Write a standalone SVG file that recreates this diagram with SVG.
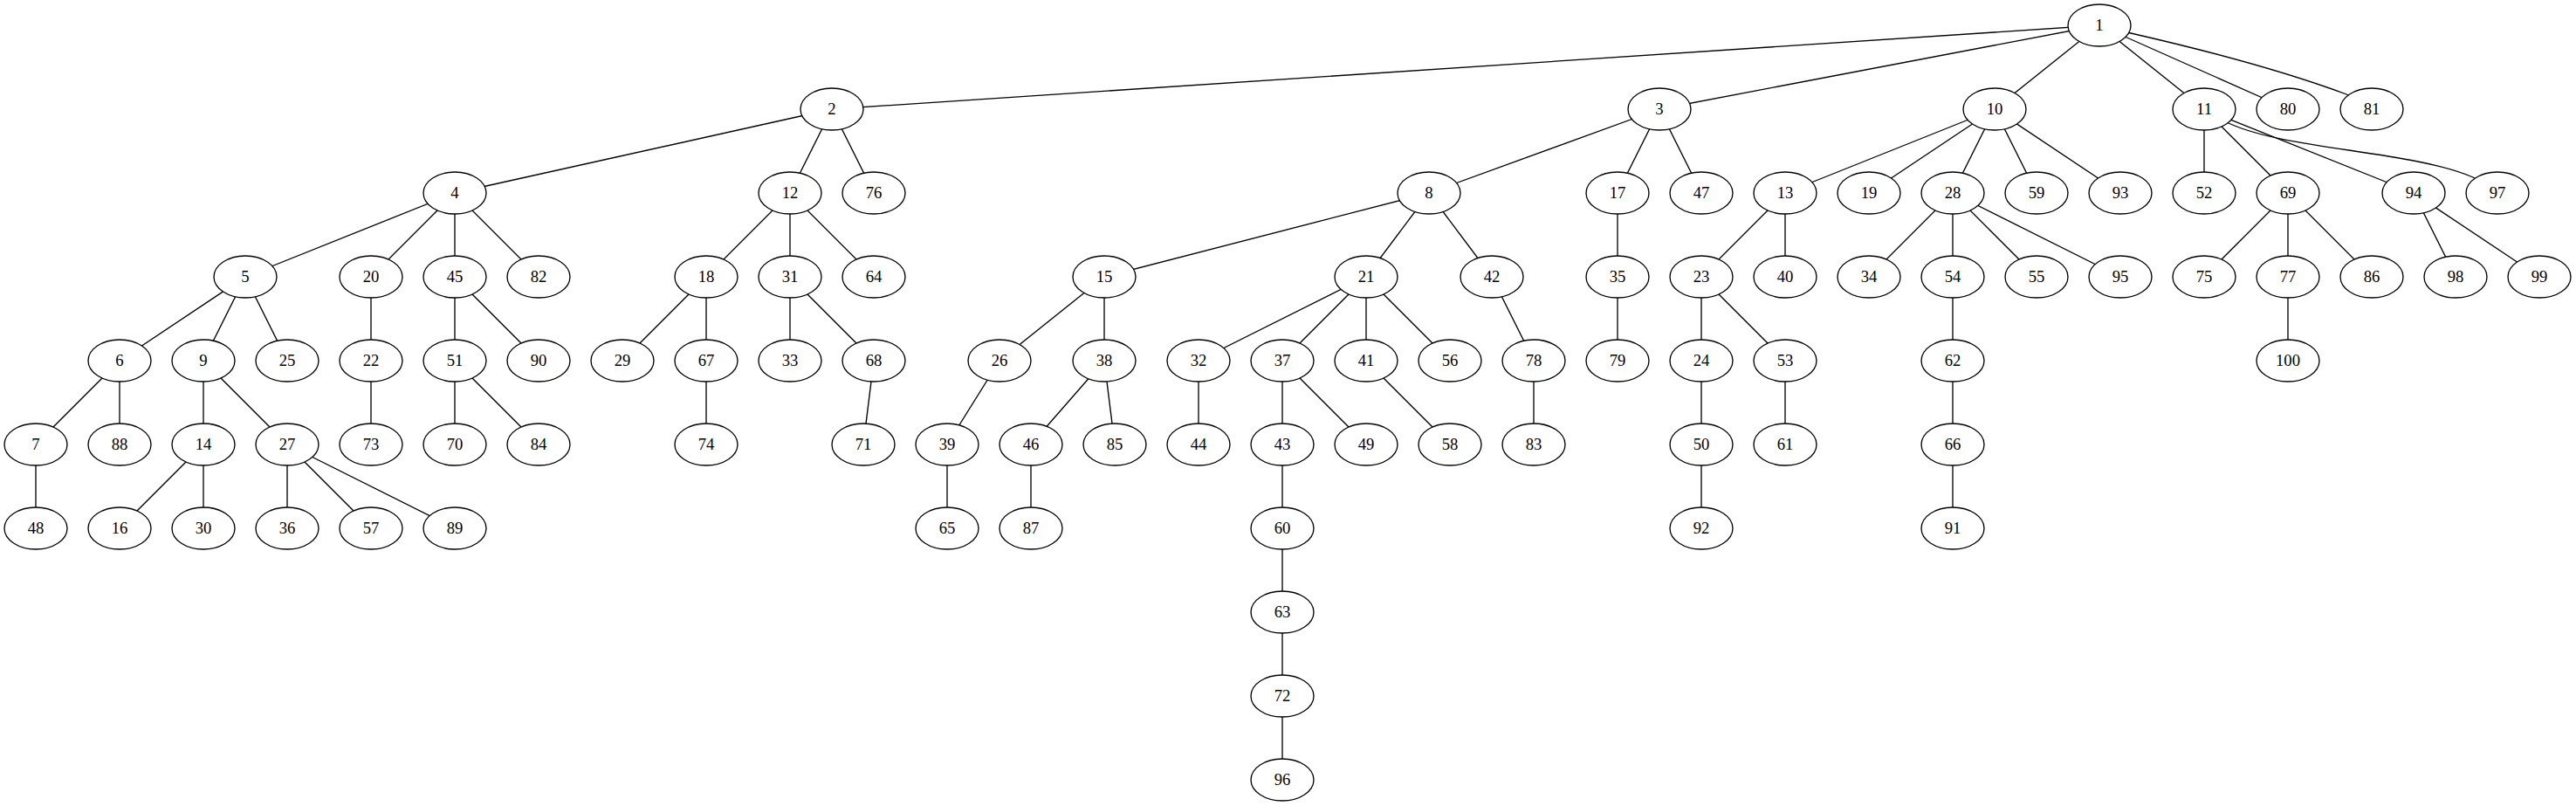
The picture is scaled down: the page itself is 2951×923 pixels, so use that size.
<svg xmlns="http://www.w3.org/2000/svg" width="2951" height="923" viewBox="0 0 2951 923">
<style>
.e{stroke:#000;stroke-width:1.33;fill:none}
.node ellipse{fill:#fff;stroke:#000;stroke-width:1.33}
.node text{font-family:"Liberation Serif","Times New Roman",serif;font-size:18.67px;text-anchor:middle;fill:#000}
</style>
<rect width="2951" height="923" fill="#fff"/>
<g id="edges">
<line class="e" x1="2405" y1="29" x2="953" y2="125"/>
<line class="e" x1="2405" y1="29" x2="1901" y2="125"/>
<line class="e" x1="2405" y1="29" x2="2285" y2="125"/>
<line class="e" x1="2405" y1="29" x2="2525" y2="125"/>
<line class="e" x1="2405" y1="29" x2="2621" y2="125"/>
<path class="e" d="M2405,29 L2441,38 Q2594,73 2688,108 L2717,125"/>
<line class="e" x1="953" y1="125" x2="521" y2="221"/>
<line class="e" x1="953" y1="125" x2="905" y2="221"/>
<line class="e" x1="953" y1="125" x2="1001" y2="221"/>
<line class="e" x1="1901" y1="125" x2="1637" y2="221"/>
<line class="e" x1="1901" y1="125" x2="1853" y2="221"/>
<line class="e" x1="1901" y1="125" x2="1949" y2="221"/>
<line class="e" x1="521" y1="221" x2="281" y2="317"/>
<line class="e" x1="521" y1="221" x2="425" y2="317"/>
<line class="e" x1="521" y1="221" x2="521" y2="317"/>
<line class="e" x1="521" y1="221" x2="617" y2="317"/>
<line class="e" x1="281" y1="317" x2="137" y2="413"/>
<line class="e" x1="281" y1="317" x2="233" y2="413"/>
<line class="e" x1="281" y1="317" x2="329" y2="413"/>
<line class="e" x1="137" y1="413" x2="41" y2="509"/>
<line class="e" x1="137" y1="413" x2="137" y2="509"/>
<line class="e" x1="41" y1="509" x2="41" y2="605"/>
<line class="e" x1="233" y1="413" x2="233" y2="509"/>
<line class="e" x1="233" y1="413" x2="329" y2="509"/>
<line class="e" x1="233" y1="509" x2="137" y2="605"/>
<line class="e" x1="233" y1="509" x2="233" y2="605"/>
<line class="e" x1="329" y1="509" x2="329" y2="605"/>
<line class="e" x1="329" y1="509" x2="425" y2="605"/>
<line class="e" x1="329" y1="509" x2="521" y2="605"/>
<line class="e" x1="425" y1="317" x2="425" y2="413"/>
<line class="e" x1="425" y1="413" x2="425" y2="509"/>
<line class="e" x1="521" y1="317" x2="521" y2="413"/>
<line class="e" x1="521" y1="317" x2="617" y2="413"/>
<line class="e" x1="521" y1="413" x2="521" y2="509"/>
<line class="e" x1="521" y1="413" x2="617" y2="509"/>
<line class="e" x1="905" y1="221" x2="809" y2="317"/>
<line class="e" x1="905" y1="221" x2="905" y2="317"/>
<line class="e" x1="905" y1="221" x2="1001" y2="317"/>
<line class="e" x1="809" y1="317" x2="713" y2="413"/>
<line class="e" x1="809" y1="317" x2="809" y2="413"/>
<line class="e" x1="809" y1="413" x2="809" y2="509"/>
<line class="e" x1="905" y1="317" x2="905" y2="413"/>
<line class="e" x1="905" y1="317" x2="1001" y2="413"/>
<line class="e" x1="1001" y1="413" x2="989" y2="509"/>
<line class="e" x1="1637" y1="221" x2="1265" y2="317"/>
<line class="e" x1="1637" y1="221" x2="1565" y2="317"/>
<line class="e" x1="1637" y1="221" x2="1709" y2="317"/>
<line class="e" x1="1265" y1="317" x2="1145" y2="413"/>
<line class="e" x1="1265" y1="317" x2="1265" y2="413"/>
<line class="e" x1="1145" y1="413" x2="1085" y2="509"/>
<line class="e" x1="1085" y1="509" x2="1085" y2="605"/>
<line class="e" x1="1265" y1="413" x2="1181" y2="509"/>
<line class="e" x1="1265" y1="413" x2="1277" y2="509"/>
<line class="e" x1="1181" y1="509" x2="1181" y2="605"/>
<line class="e" x1="1565" y1="317" x2="1373" y2="413"/>
<line class="e" x1="1565" y1="317" x2="1469" y2="413"/>
<line class="e" x1="1565" y1="317" x2="1565" y2="413"/>
<line class="e" x1="1565" y1="317" x2="1661" y2="413"/>
<line class="e" x1="1373" y1="413" x2="1373" y2="509"/>
<line class="e" x1="1469" y1="413" x2="1469" y2="509"/>
<line class="e" x1="1469" y1="413" x2="1565" y2="509"/>
<line class="e" x1="1469" y1="509" x2="1469" y2="605"/>
<line class="e" x1="1469" y1="605" x2="1469" y2="701"/>
<line class="e" x1="1469" y1="701" x2="1469" y2="797"/>
<line class="e" x1="1469" y1="797" x2="1469" y2="893"/>
<line class="e" x1="1565" y1="413" x2="1661" y2="509"/>
<line class="e" x1="1709" y1="317" x2="1757" y2="413"/>
<line class="e" x1="1757" y1="413" x2="1757" y2="509"/>
<line class="e" x1="1853" y1="221" x2="1853" y2="317"/>
<line class="e" x1="1853" y1="317" x2="1853" y2="413"/>
<line class="e" x1="2285" y1="125" x2="2045" y2="221"/>
<line class="e" x1="2285" y1="125" x2="2141" y2="221"/>
<line class="e" x1="2285" y1="125" x2="2237" y2="221"/>
<line class="e" x1="2285" y1="125" x2="2333" y2="221"/>
<line class="e" x1="2285" y1="125" x2="2429" y2="221"/>
<line class="e" x1="2045" y1="221" x2="1949" y2="317"/>
<line class="e" x1="2045" y1="221" x2="2045" y2="317"/>
<line class="e" x1="1949" y1="317" x2="1949" y2="413"/>
<line class="e" x1="1949" y1="317" x2="2045" y2="413"/>
<line class="e" x1="1949" y1="413" x2="1949" y2="509"/>
<line class="e" x1="1949" y1="509" x2="1949" y2="605"/>
<line class="e" x1="2045" y1="413" x2="2045" y2="509"/>
<line class="e" x1="2237" y1="221" x2="2141" y2="317"/>
<line class="e" x1="2237" y1="221" x2="2237" y2="317"/>
<line class="e" x1="2237" y1="221" x2="2333" y2="317"/>
<line class="e" x1="2237" y1="221" x2="2429" y2="317"/>
<line class="e" x1="2237" y1="317" x2="2237" y2="413"/>
<line class="e" x1="2237" y1="413" x2="2237" y2="509"/>
<line class="e" x1="2237" y1="509" x2="2237" y2="605"/>
<line class="e" x1="2525" y1="125" x2="2525" y2="221"/>
<line class="e" x1="2525" y1="125" x2="2621" y2="221"/>
<line class="e" x1="2525" y1="125" x2="2765" y2="221"/>
<path class="e" d="M2525,125 L2553,141 C2620,172 2760,172 2833,203 L2861,221"/>
<line class="e" x1="2621" y1="221" x2="2525" y2="317"/>
<line class="e" x1="2621" y1="221" x2="2621" y2="317"/>
<line class="e" x1="2621" y1="221" x2="2717" y2="317"/>
<line class="e" x1="2621" y1="317" x2="2621" y2="413"/>
<line class="e" x1="2765" y1="221" x2="2813" y2="317"/>
<line class="e" x1="2765" y1="221" x2="2909" y2="317"/>
</g>
<g id="n1" class="node"><ellipse cx="2405" cy="29" rx="36" ry="24"/><text x="2405" y="34.6">1</text></g>
<g id="n2" class="node"><ellipse cx="953" cy="125" rx="36" ry="24"/><text x="953" y="130.6">2</text></g>
<g id="n3" class="node"><ellipse cx="1901" cy="125" rx="36" ry="24"/><text x="1901" y="130.6">3</text></g>
<g id="n10" class="node"><ellipse cx="2285" cy="125" rx="36" ry="24"/><text x="2285" y="130.6">10</text></g>
<g id="n11" class="node"><ellipse cx="2525" cy="125" rx="36" ry="24"/><text x="2525" y="130.6">11</text></g>
<g id="n80" class="node"><ellipse cx="2621" cy="125" rx="36" ry="24"/><text x="2621" y="130.6">80</text></g>
<g id="n81" class="node"><ellipse cx="2717" cy="125" rx="36" ry="24"/><text x="2717" y="130.6">81</text></g>
<g id="n4" class="node"><ellipse cx="521" cy="221" rx="36" ry="24"/><text x="521" y="226.6">4</text></g>
<g id="n12" class="node"><ellipse cx="905" cy="221" rx="36" ry="24"/><text x="905" y="226.6">12</text></g>
<g id="n76" class="node"><ellipse cx="1001" cy="221" rx="36" ry="24"/><text x="1001" y="226.6">76</text></g>
<g id="n8" class="node"><ellipse cx="1637" cy="221" rx="36" ry="24"/><text x="1637" y="226.6">8</text></g>
<g id="n17" class="node"><ellipse cx="1853" cy="221" rx="36" ry="24"/><text x="1853" y="226.6">17</text></g>
<g id="n47" class="node"><ellipse cx="1949" cy="221" rx="36" ry="24"/><text x="1949" y="226.6">47</text></g>
<g id="n13" class="node"><ellipse cx="2045" cy="221" rx="36" ry="24"/><text x="2045" y="226.6">13</text></g>
<g id="n19" class="node"><ellipse cx="2141" cy="221" rx="36" ry="24"/><text x="2141" y="226.6">19</text></g>
<g id="n28" class="node"><ellipse cx="2237" cy="221" rx="36" ry="24"/><text x="2237" y="226.6">28</text></g>
<g id="n59" class="node"><ellipse cx="2333" cy="221" rx="36" ry="24"/><text x="2333" y="226.6">59</text></g>
<g id="n93" class="node"><ellipse cx="2429" cy="221" rx="36" ry="24"/><text x="2429" y="226.6">93</text></g>
<g id="n52" class="node"><ellipse cx="2525" cy="221" rx="36" ry="24"/><text x="2525" y="226.6">52</text></g>
<g id="n69" class="node"><ellipse cx="2621" cy="221" rx="36" ry="24"/><text x="2621" y="226.6">69</text></g>
<g id="n94" class="node"><ellipse cx="2765" cy="221" rx="36" ry="24"/><text x="2765" y="226.6">94</text></g>
<g id="n97" class="node"><ellipse cx="2861" cy="221" rx="36" ry="24"/><text x="2861" y="226.6">97</text></g>
<g id="n5" class="node"><ellipse cx="281" cy="317" rx="36" ry="24"/><text x="281" y="322.6">5</text></g>
<g id="n20" class="node"><ellipse cx="425" cy="317" rx="36" ry="24"/><text x="425" y="322.6">20</text></g>
<g id="n45" class="node"><ellipse cx="521" cy="317" rx="36" ry="24"/><text x="521" y="322.6">45</text></g>
<g id="n82" class="node"><ellipse cx="617" cy="317" rx="36" ry="24"/><text x="617" y="322.6">82</text></g>
<g id="n18" class="node"><ellipse cx="809" cy="317" rx="36" ry="24"/><text x="809" y="322.6">18</text></g>
<g id="n31" class="node"><ellipse cx="905" cy="317" rx="36" ry="24"/><text x="905" y="322.6">31</text></g>
<g id="n64" class="node"><ellipse cx="1001" cy="317" rx="36" ry="24"/><text x="1001" y="322.6">64</text></g>
<g id="n15" class="node"><ellipse cx="1265" cy="317" rx="36" ry="24"/><text x="1265" y="322.6">15</text></g>
<g id="n21" class="node"><ellipse cx="1565" cy="317" rx="36" ry="24"/><text x="1565" y="322.6">21</text></g>
<g id="n42" class="node"><ellipse cx="1709" cy="317" rx="36" ry="24"/><text x="1709" y="322.6">42</text></g>
<g id="n35" class="node"><ellipse cx="1853" cy="317" rx="36" ry="24"/><text x="1853" y="322.6">35</text></g>
<g id="n23" class="node"><ellipse cx="1949" cy="317" rx="36" ry="24"/><text x="1949" y="322.6">23</text></g>
<g id="n40" class="node"><ellipse cx="2045" cy="317" rx="36" ry="24"/><text x="2045" y="322.6">40</text></g>
<g id="n34" class="node"><ellipse cx="2141" cy="317" rx="36" ry="24"/><text x="2141" y="322.6">34</text></g>
<g id="n54" class="node"><ellipse cx="2237" cy="317" rx="36" ry="24"/><text x="2237" y="322.6">54</text></g>
<g id="n55" class="node"><ellipse cx="2333" cy="317" rx="36" ry="24"/><text x="2333" y="322.6">55</text></g>
<g id="n95" class="node"><ellipse cx="2429" cy="317" rx="36" ry="24"/><text x="2429" y="322.6">95</text></g>
<g id="n75" class="node"><ellipse cx="2525" cy="317" rx="36" ry="24"/><text x="2525" y="322.6">75</text></g>
<g id="n77" class="node"><ellipse cx="2621" cy="317" rx="36" ry="24"/><text x="2621" y="322.6">77</text></g>
<g id="n86" class="node"><ellipse cx="2717" cy="317" rx="36" ry="24"/><text x="2717" y="322.6">86</text></g>
<g id="n98" class="node"><ellipse cx="2813" cy="317" rx="36" ry="24"/><text x="2813" y="322.6">98</text></g>
<g id="n99" class="node"><ellipse cx="2909" cy="317" rx="36" ry="24"/><text x="2909" y="322.6">99</text></g>
<g id="n6" class="node"><ellipse cx="137" cy="413" rx="36" ry="24"/><text x="137" y="418.6">6</text></g>
<g id="n9" class="node"><ellipse cx="233" cy="413" rx="36" ry="24"/><text x="233" y="418.6">9</text></g>
<g id="n25" class="node"><ellipse cx="329" cy="413" rx="36" ry="24"/><text x="329" y="418.6">25</text></g>
<g id="n22" class="node"><ellipse cx="425" cy="413" rx="36" ry="24"/><text x="425" y="418.6">22</text></g>
<g id="n51" class="node"><ellipse cx="521" cy="413" rx="36" ry="24"/><text x="521" y="418.6">51</text></g>
<g id="n90" class="node"><ellipse cx="617" cy="413" rx="36" ry="24"/><text x="617" y="418.6">90</text></g>
<g id="n29" class="node"><ellipse cx="713" cy="413" rx="36" ry="24"/><text x="713" y="418.6">29</text></g>
<g id="n67" class="node"><ellipse cx="809" cy="413" rx="36" ry="24"/><text x="809" y="418.6">67</text></g>
<g id="n33" class="node"><ellipse cx="905" cy="413" rx="36" ry="24"/><text x="905" y="418.6">33</text></g>
<g id="n68" class="node"><ellipse cx="1001" cy="413" rx="36" ry="24"/><text x="1001" y="418.6">68</text></g>
<g id="n26" class="node"><ellipse cx="1145" cy="413" rx="36" ry="24"/><text x="1145" y="418.6">26</text></g>
<g id="n38" class="node"><ellipse cx="1265" cy="413" rx="36" ry="24"/><text x="1265" y="418.6">38</text></g>
<g id="n32" class="node"><ellipse cx="1373" cy="413" rx="36" ry="24"/><text x="1373" y="418.6">32</text></g>
<g id="n37" class="node"><ellipse cx="1469" cy="413" rx="36" ry="24"/><text x="1469" y="418.6">37</text></g>
<g id="n41" class="node"><ellipse cx="1565" cy="413" rx="36" ry="24"/><text x="1565" y="418.6">41</text></g>
<g id="n56" class="node"><ellipse cx="1661" cy="413" rx="36" ry="24"/><text x="1661" y="418.6">56</text></g>
<g id="n78" class="node"><ellipse cx="1757" cy="413" rx="36" ry="24"/><text x="1757" y="418.6">78</text></g>
<g id="n79" class="node"><ellipse cx="1853" cy="413" rx="36" ry="24"/><text x="1853" y="418.6">79</text></g>
<g id="n24" class="node"><ellipse cx="1949" cy="413" rx="36" ry="24"/><text x="1949" y="418.6">24</text></g>
<g id="n53" class="node"><ellipse cx="2045" cy="413" rx="36" ry="24"/><text x="2045" y="418.6">53</text></g>
<g id="n62" class="node"><ellipse cx="2237" cy="413" rx="36" ry="24"/><text x="2237" y="418.6">62</text></g>
<g id="n100" class="node"><ellipse cx="2621" cy="413" rx="36" ry="24"/><text x="2621" y="418.6">100</text></g>
<g id="n7" class="node"><ellipse cx="41" cy="509" rx="36" ry="24"/><text x="41" y="514.6">7</text></g>
<g id="n88" class="node"><ellipse cx="137" cy="509" rx="36" ry="24"/><text x="137" y="514.6">88</text></g>
<g id="n14" class="node"><ellipse cx="233" cy="509" rx="36" ry="24"/><text x="233" y="514.6">14</text></g>
<g id="n27" class="node"><ellipse cx="329" cy="509" rx="36" ry="24"/><text x="329" y="514.6">27</text></g>
<g id="n73" class="node"><ellipse cx="425" cy="509" rx="36" ry="24"/><text x="425" y="514.6">73</text></g>
<g id="n70" class="node"><ellipse cx="521" cy="509" rx="36" ry="24"/><text x="521" y="514.6">70</text></g>
<g id="n84" class="node"><ellipse cx="617" cy="509" rx="36" ry="24"/><text x="617" y="514.6">84</text></g>
<g id="n74" class="node"><ellipse cx="809" cy="509" rx="36" ry="24"/><text x="809" y="514.6">74</text></g>
<g id="n71" class="node"><ellipse cx="989" cy="509" rx="36" ry="24"/><text x="989" y="514.6">71</text></g>
<g id="n39" class="node"><ellipse cx="1085" cy="509" rx="36" ry="24"/><text x="1085" y="514.6">39</text></g>
<g id="n46" class="node"><ellipse cx="1181" cy="509" rx="36" ry="24"/><text x="1181" y="514.6">46</text></g>
<g id="n85" class="node"><ellipse cx="1277" cy="509" rx="36" ry="24"/><text x="1277" y="514.6">85</text></g>
<g id="n44" class="node"><ellipse cx="1373" cy="509" rx="36" ry="24"/><text x="1373" y="514.6">44</text></g>
<g id="n43" class="node"><ellipse cx="1469" cy="509" rx="36" ry="24"/><text x="1469" y="514.6">43</text></g>
<g id="n49" class="node"><ellipse cx="1565" cy="509" rx="36" ry="24"/><text x="1565" y="514.6">49</text></g>
<g id="n58" class="node"><ellipse cx="1661" cy="509" rx="36" ry="24"/><text x="1661" y="514.6">58</text></g>
<g id="n83" class="node"><ellipse cx="1757" cy="509" rx="36" ry="24"/><text x="1757" y="514.6">83</text></g>
<g id="n50" class="node"><ellipse cx="1949" cy="509" rx="36" ry="24"/><text x="1949" y="514.6">50</text></g>
<g id="n61" class="node"><ellipse cx="2045" cy="509" rx="36" ry="24"/><text x="2045" y="514.6">61</text></g>
<g id="n66" class="node"><ellipse cx="2237" cy="509" rx="36" ry="24"/><text x="2237" y="514.6">66</text></g>
<g id="n48" class="node"><ellipse cx="41" cy="605" rx="36" ry="24"/><text x="41" y="610.6">48</text></g>
<g id="n16" class="node"><ellipse cx="137" cy="605" rx="36" ry="24"/><text x="137" y="610.6">16</text></g>
<g id="n30" class="node"><ellipse cx="233" cy="605" rx="36" ry="24"/><text x="233" y="610.6">30</text></g>
<g id="n36" class="node"><ellipse cx="329" cy="605" rx="36" ry="24"/><text x="329" y="610.6">36</text></g>
<g id="n57" class="node"><ellipse cx="425" cy="605" rx="36" ry="24"/><text x="425" y="610.6">57</text></g>
<g id="n89" class="node"><ellipse cx="521" cy="605" rx="36" ry="24"/><text x="521" y="610.6">89</text></g>
<g id="n65" class="node"><ellipse cx="1085" cy="605" rx="36" ry="24"/><text x="1085" y="610.6">65</text></g>
<g id="n87" class="node"><ellipse cx="1181" cy="605" rx="36" ry="24"/><text x="1181" y="610.6">87</text></g>
<g id="n60" class="node"><ellipse cx="1469" cy="605" rx="36" ry="24"/><text x="1469" y="610.6">60</text></g>
<g id="n92" class="node"><ellipse cx="1949" cy="605" rx="36" ry="24"/><text x="1949" y="610.6">92</text></g>
<g id="n91" class="node"><ellipse cx="2237" cy="605" rx="36" ry="24"/><text x="2237" y="610.6">91</text></g>
<g id="n63" class="node"><ellipse cx="1469" cy="701" rx="36" ry="24"/><text x="1469" y="706.6">63</text></g>
<g id="n72" class="node"><ellipse cx="1469" cy="797" rx="36" ry="24"/><text x="1469" y="802.6">72</text></g>
<g id="n96" class="node"><ellipse cx="1469" cy="893" rx="36" ry="24"/><text x="1469" y="898.6">96</text></g>
</svg>
